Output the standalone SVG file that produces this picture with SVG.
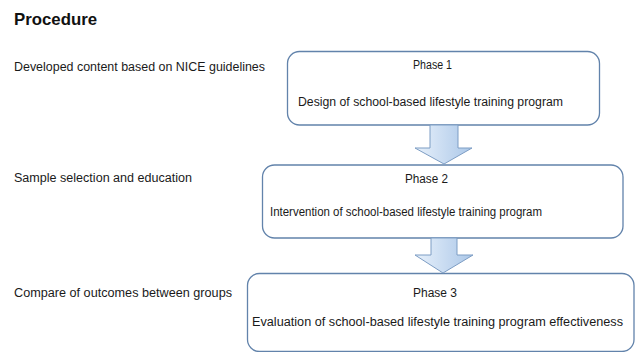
<svg xmlns="http://www.w3.org/2000/svg" width="638" height="352" viewBox="0 0 638 352">
<defs>
<linearGradient id="ag" x1="0" y1="0" x2="1" y2="0">
<stop offset="0" stop-color="#e8f1fb"/>
<stop offset="1" stop-color="#abc7e8"/>
</linearGradient>
<style>
.t{font-family:"Liberation Sans",Arial,sans-serif;font-size:12.5px;fill:#1a1a1a}
.h{font-family:"Liberation Sans",Arial,sans-serif;font-size:17px;font-weight:bold;fill:#111}
.box{fill:#fff;stroke:#6283ab;stroke-width:1.3}
.arr{fill:url(#ag);stroke:#7d9dc4;stroke-width:1}
</style>
</defs>
<rect width="638" height="352" fill="#fff"/>
<text class="h" x="14" y="25" textLength="83" lengthAdjust="spacingAndGlyphs">Procedure</text>
<text class="t" x="14" y="71" textLength="251" lengthAdjust="spacingAndGlyphs">Developed content based on NICE guidelines</text>
<text class="t" x="14" y="182" textLength="178" lengthAdjust="spacingAndGlyphs">Sample selection and education</text>
<text class="t" x="14" y="297" textLength="218" lengthAdjust="spacingAndGlyphs">Compare of outcomes between groups</text>
<g id="phase1">
<rect class="box" x="287.5" y="51.5" width="312" height="73.5" rx="12"/>
<text class="t" x="413" y="69" textLength="39" lengthAdjust="spacingAndGlyphs">Phase 1</text>
<text class="t" x="298" y="106" textLength="265" lengthAdjust="spacingAndGlyphs">Design of school-based lifestyle training program</text>
</g>
<g id="phase2">
<rect class="box" x="262.5" y="165" width="360.5" height="73" rx="12"/>
<text class="t" x="405" y="183" textLength="43" lengthAdjust="spacingAndGlyphs">Phase 2</text>
<text class="t" x="270" y="216" textLength="272" lengthAdjust="spacingAndGlyphs">Intervention of school-based lifestyle training program</text>
</g>
<g id="phase3">
<rect class="box" x="247.5" y="273.5" width="386.5" height="78" rx="12"/>
<text class="t" x="413" y="297" textLength="44" lengthAdjust="spacingAndGlyphs">Phase 3</text>
<text class="t" x="252" y="326" textLength="371" lengthAdjust="spacingAndGlyphs">Evaluation of school-based lifestyle training program effectiveness</text>
</g>
<g id="connectors">
<polygon class="arr" points="430,125 458,125 458,148 472,148 444,164 415,148 430,148"/>
<polygon class="arr" points="431,238 457,238 457,255 473,255 443,273 415,255 431,255"/>
</g>
</svg>
